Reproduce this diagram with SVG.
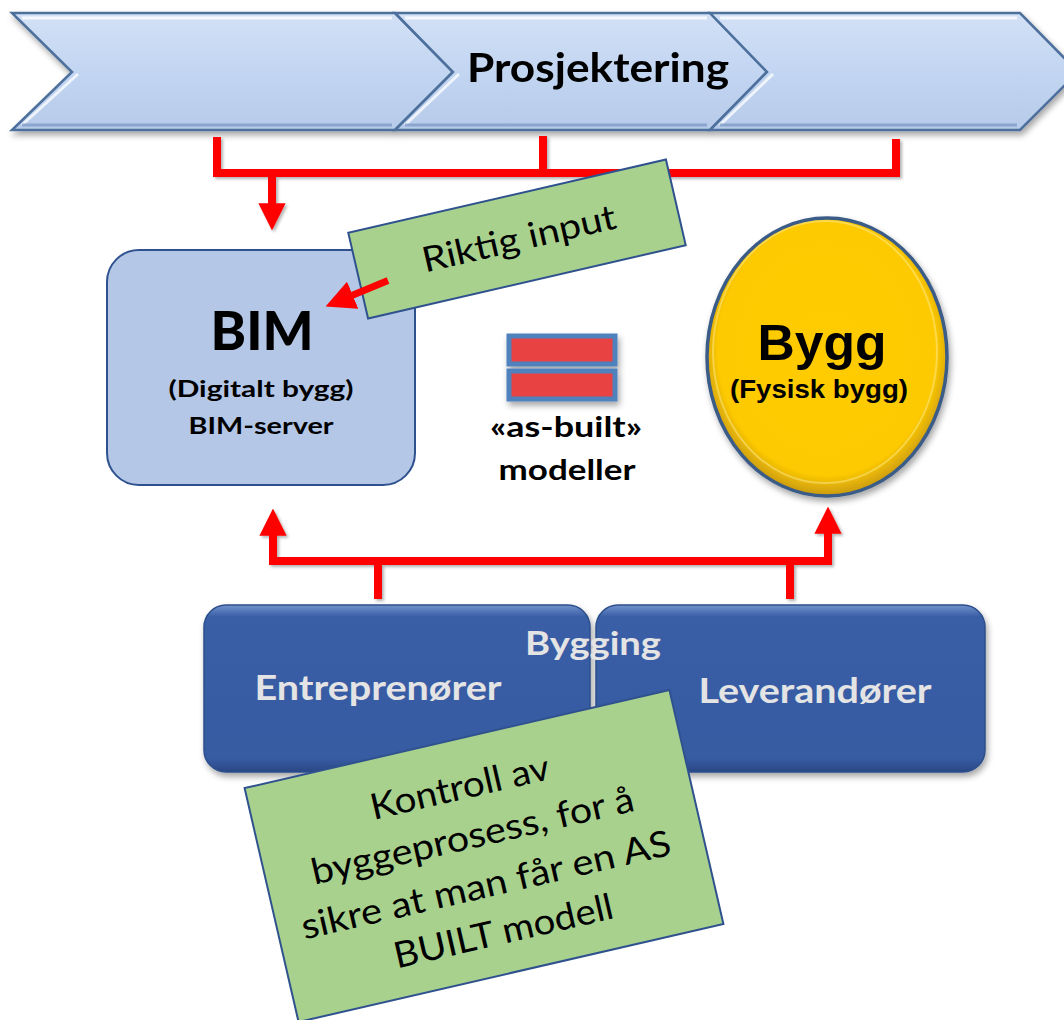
<svg xmlns="http://www.w3.org/2000/svg" width="1064" height="1020" viewBox="0 0 1064 1020">
<defs>
  <style>
    .chev { fill: url(#chevFill); stroke: #4d6f9c; stroke-width: 2.5; stroke-linejoin: miter; }
    .hl { fill: none; stroke: #ffffff; stroke-opacity: 0.75; stroke-width: 3; }
    .dk { fill: none; stroke: #7f9cc6; stroke-opacity: 0.8; stroke-width: 3; }
    .red { fill: none; stroke: #ff0000; stroke-width: 8; stroke-linecap: butt; stroke-linejoin: miter; }
    .note { fill: #a9d18e; stroke: #2f528f; stroke-width: 2; }
    .cal { font-family: Lato, "Liberation Sans", sans-serif; }
    .ari { font-family: "Liberation Sans", Arial, sans-serif; font-weight: bold; }
    .blk { fill: #000000; }
    .lt { fill: #e4e4e4; font-weight: bold; }
    .eq { fill: #e84343; stroke: #4f81bd; stroke-width: 5; }
    .bbox { fill: url(#boxFill); stroke: #2d4f8c; stroke-width: 1.5; }
  </style>
  <linearGradient id="chevFill" x1="0" y1="0" x2="0" y2="1">
    <stop offset="0" stop-color="#d3e1f6"/>
    <stop offset="0.5" stop-color="#c2d5f1"/>
    <stop offset="1" stop-color="#b7cbea"/>
  </linearGradient>
  <linearGradient id="boxFill" x1="0" y1="0" x2="0" y2="1">
    <stop offset="0" stop-color="#7292cc"/>
    <stop offset="0.07" stop-color="#3a5ea6"/>
    <stop offset="0.92" stop-color="#375ba2"/>
    <stop offset="1" stop-color="#2a4785"/>
  </linearGradient>
  <radialGradient id="byggFill" cx="0.5" cy="0.47" r="0.53">
    <stop offset="0" stop-color="#ffcc00"/>
    <stop offset="0.86" stop-color="#fdc900"/>
    <stop offset="1" stop-color="#c99a10"/>
  </radialGradient>
  <filter id="shadow" x="-10%" y="-10%" width="130%" height="140%">
    <feDropShadow dx="2" dy="4" stdDeviation="3" flood-color="#000000" flood-opacity="0.35"/>
  </filter>
  <filter id="lshadow" x="-10%" y="-10%" width="130%" height="130%">
    <feDropShadow dx="2" dy="2" stdDeviation="1.5" flood-color="#000000" flood-opacity="0.3"/>
  </filter>
  <marker id="arrow" viewBox="0 0 10 10" refX="1" refY="5" markerWidth="3.4" markerHeight="3.4" orient="auto" markerUnits="strokeWidth">
    <path d="M0,0 L10,5 L0,10 z" fill="#ff0000"/>
  </marker>
  <marker id="arrowBig" viewBox="0 0 10 10" refX="1" refY="5" markerWidth="4.2" markerHeight="4.2" orient="auto" markerUnits="strokeWidth">
    <path d="M0,0 L10,5 L0,10 z" fill="#ff0000"/>
  </marker>
</defs>

<rect x="0" y="0" width="1064" height="1020" fill="#ffffff"/>

<g id="prosjektering" filter="url(#shadow)">
  <polygon class="chev" points="12,13 395,13 453,72 395,130 12,130 72,72"/>
  <polygon class="chev" points="395,13 710,13 767,72 710,130 395,130 453,72"/>
  <polygon class="chev" points="710,13 1020,13 1078,72 1020,130 710,130 767,72"/>
  <polyline class="hl" points="22,18 392,18"/>
  <polyline class="hl" points="405,18 707,18"/>
  <polyline class="hl" points="720,18 1017,18"/>
  <polyline class="hl" points="78,74 22,125"/>
  <polyline class="hl" points="459,74 405,125"/>
  <polyline class="hl" points="773,74 720,125"/>
  <polyline class="dk" points="22,125 392,125"/>
  <polyline class="dk" points="405,125 707,125"/>
  <polyline class="dk" points="720,125 1017,125"/>
  <text class="cal blk" x="598" y="82" font-size="40" font-weight="bold" text-anchor="middle" textLength="262" lengthAdjust="spacingAndGlyphs">Prosjektering</text>
</g>

<g id="connectors" filter="url(#lshadow)">
  <path class="red" d="M217,137 V173 H896 V139"/>
  <path class="red" d="M543,136 V173"/>
  <path class="red" d="M272,173 V206" marker-end="url(#arrow)"/>
  <path class="red" d="M269,561 H832"/>
  <path class="red" d="M273,561 V533" marker-end="url(#arrow)"/>
  <path class="red" d="M828,561 V531" marker-end="url(#arrow)"/>
  <path class="red" d="M378,561 V599"/>
  <path class="red" d="M790,561 V599"/>
</g>

<g id="bim">
  <rect x="107" y="250" width="308" height="235" rx="32" fill="#b4c7e7" stroke="#2f528f" stroke-width="2"/>
  <text class="cal blk" x="262" y="350" font-size="54" font-weight="900" text-anchor="middle" textLength="103" lengthAdjust="spacingAndGlyphs">BIM</text>
  <text class="cal blk" x="261" y="397" font-size="23" font-weight="bold" text-anchor="middle" textLength="185" lengthAdjust="spacingAndGlyphs">(Digitalt bygg)</text>
  <text class="cal blk" x="261" y="434" font-size="23" font-weight="bold" text-anchor="middle" textLength="145" lengthAdjust="spacingAndGlyphs">BIM-server</text>
</g>

<g id="as-built">
  <g filter="url(#shadow)">
    <rect class="eq" x="509" y="336" width="106" height="28"/>
    <rect class="eq" x="509" y="371" width="106" height="28"/>
  </g>
  <text class="cal blk" x="566" y="437" font-size="29" font-weight="bold" text-anchor="middle" textLength="152" lengthAdjust="spacingAndGlyphs">«as-built»</text>
  <text class="cal blk" x="567" y="480" font-size="29" font-weight="bold" text-anchor="middle" textLength="137" lengthAdjust="spacingAndGlyphs">modeller</text>
</g>

<g id="bygg">
  <ellipse cx="827" cy="357" rx="120" ry="139" fill="url(#byggFill)" stroke="#3b5b86" stroke-width="3.5" filter="url(#shadow)"/>
  <ellipse cx="825" cy="352" rx="112" ry="131" fill="none" stroke="#fff0a0" stroke-opacity="0.45" stroke-width="2"/>
  <text class="ari blk" x="822" y="360" font-size="50" text-anchor="middle" textLength="129" lengthAdjust="spacingAndGlyphs">Bygg</text>
  <text class="ari blk" x="819" y="398" font-size="25" text-anchor="middle" textLength="178" lengthAdjust="spacingAndGlyphs">(Fysisk bygg)</text>
</g>

<g id="entreprenorer">
  <rect class="bbox" x="204" y="605" width="386" height="167" rx="22" filter="url(#shadow)"/>
  <text class="cal lt" x="378" y="700" font-size="35" text-anchor="middle" textLength="247" lengthAdjust="spacingAndGlyphs">Entreprenører</text>
</g>

<g id="leverandorer">
  <rect class="bbox" x="596" y="605" width="389" height="167" rx="22" filter="url(#shadow)"/>
  <text class="cal lt" x="815" y="703" font-size="35" text-anchor="middle" textLength="233" lengthAdjust="spacingAndGlyphs">Leverandører</text>
</g>

<g id="bygging">
  <text class="cal lt" x="593" y="655" font-size="33" text-anchor="middle" textLength="136" lengthAdjust="spacingAndGlyphs">Bygging</text>
</g>

<g id="riktig-input" transform="translate(517,239) rotate(-13)">
  <rect class="note" x="-163" y="-44" width="326" height="88"/>
  <text class="cal blk" x="2" y="12" font-size="35" text-anchor="middle" textLength="198" lengthAdjust="spacingAndGlyphs">Riktig input</text>
</g>

<g id="connector-input">
  <path class="red" style="stroke-width:7" d="M388,280.6 L350,296.3" marker-end="url(#arrowBig)"/>
</g>

<g id="kontroll" transform="translate(484,856) rotate(-13)">
  <rect class="note" x="-218" y="-120" width="436" height="240"/>
  <text class="cal blk" font-size="36" text-anchor="middle">
    <tspan x="-4" y="-60" textLength="182" lengthAdjust="spacingAndGlyphs">Kontroll av</tspan>
    <tspan x="-2" y="-10" textLength="330" lengthAdjust="spacingAndGlyphs">byggeprosess, for å</tspan>
    <tspan x="0" y="41" textLength="378" lengthAdjust="spacingAndGlyphs">sikre at man får en AS</tspan>
    <tspan x="2" y="90" textLength="224" lengthAdjust="spacingAndGlyphs">BUILT modell</tspan>
  </text>
</g>
</svg>
